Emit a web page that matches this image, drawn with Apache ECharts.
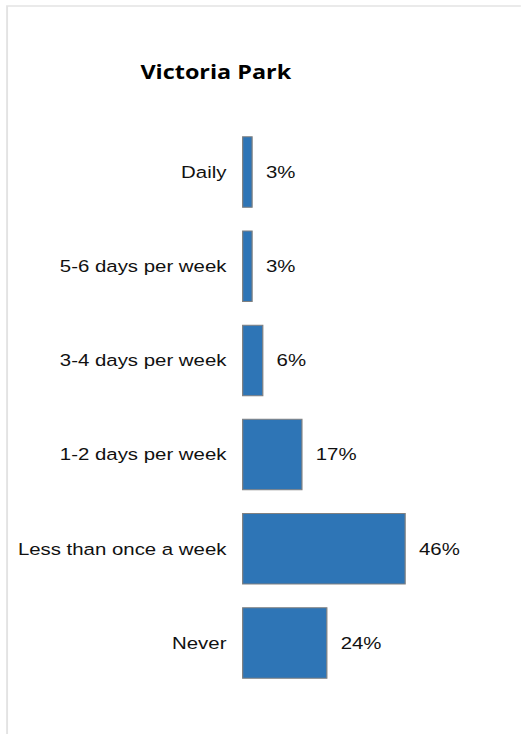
<!DOCTYPE html>
<html>
<head>
<meta charset="utf-8">
<script src="https://cdn.jsdelivr.net/npm/echarts@6/dist/echarts.min.js"></script>
<style>
html,body{margin:0;padding:0;background:#fff;overflow:hidden;}
#wrap{width:521px;height:734px;position:relative;overflow:hidden;}
#chart{position:absolute;left:0;top:0;width:434.17px;height:734px;transform:scaleX(1.2);transform-origin:0 0;}
</style>
</head>
<body>
<div id="wrap"><div id="chart"></div></div>
<script>
var titleText = 'Victoria Park';
var categories = ['Daily', '5-6 days per week', '3-4 days per week', '1-2 days per week', 'Less than once a week', 'Never'];
var values = [3, 3, 6, 17, 46, 24];

var chart = echarts.init(document.getElementById('chart'), null, {renderer: 'svg'});
chart.setOption({
  animation: false,
  backgroundColor: '#fff',
  title: {
    text: titleText,
    left: 112,
    top: 56,
    textStyle: {fontFamily: 'Open Sans', fontWeight: 'bold', fontSize: 19.5, color: '#000'}
  },
  graphic: [{
    type: 'rect',
    shape: {x: 5.9, y: 6, width: 1000, height: 1000},
    style: {fill: 'none', stroke: '#e3e3e3', lineWidth: 1.6},
    silent: true
  }],
  grid: {left: 201.7, right: 84, top: 125, bottom: 44, containLabel: false},
  xAxis: {
    type: 'value', min: 0, max: 50,
    show: false
  },
  yAxis: {
    type: 'category',
    data: categories,
    inverse: true,
    axisLine: {show: false},
    axisTick: {show: false},
    axisLabel: {margin: 13, fontFamily: 'Liberation Sans', fontSize: 17, color: '#111'}
  },
  series: [{
    type: 'bar',
    data: values,
    barCategoryGap: '24%',
    itemStyle: {color: '#2E75B6', borderColor: '#808080', borderWidth: 1},
    label: {
      show: true, position: 'right', distance: 11,
      formatter: function (p) { return p.value + '%'; },
      fontFamily: 'Liberation Sans', fontSize: 17, color: '#111'
    }
  }]
});
</script>
</body>
</html>
